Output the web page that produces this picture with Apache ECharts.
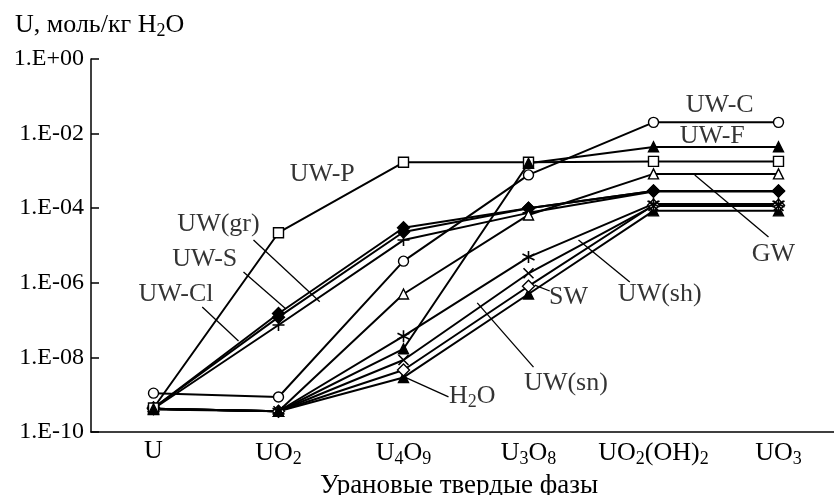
<!DOCTYPE html>
<html>
<head>
<meta charset="utf-8">
<script src="https://cdn.jsdelivr.net/npm/echarts@6/dist/echarts.min.js"></script>
<style>
  html, body { margin: 0; padding: 0; background: #fff; }
  #chart { width: 834px; height: 495px; }
</style>
</head>
<body>
<div id="chart"></div>
<script>
// ---- data ----
const categories = ['U', 'UO2', 'U4O9', 'U3O8', 'UO2(OH)2', 'UO3'];
const yTickLabels = ['1.E-10', '1.E-08', '1.E-06', '1.E-04', '1.E-02', '1.E+00'];

const uwC  = [1.1e-9, 8.7e-10, 3.8e-6, 7.8e-4, 2.0e-2, 2.0e-2];
const uwF  = [4.2e-10, 3.6e-10, 1.7e-8, 1.6e-3, 4.4e-3, 4.4e-3];
const uwP  = [4.4e-10, 2.2e-5, 1.7e-3, 1.7e-3, 1.8e-3, 1.8e-3];
const gw   = [4.2e-10, 3.6e-10, 5.0e-7, 6.6e-5, 8.3e-4, 8.3e-4];
const uwGr = [4.4e-10, 1.2e-7, 2.3e-5, 1.0e-4, 2.9e-4, 2.9e-4];
const uwS  = [4.4e-10, 1.5e-7, 3.0e-5, 1.0e-4, 2.9e-4, 2.9e-4];
const uwCl = [4.2e-10, 7.4e-8, 1.4e-5, 7.5e-5, 2.8e-4, 2.8e-4];
const uwSh = [4.2e-10, 3.6e-10, 3.7e-8, 4.9e-6, 1.3e-4, 1.3e-4];
const uwSn = [4.2e-10, 3.6e-10, 8.5e-9, 1.8e-6, 1.15e-4, 1.15e-4];
const sw   = [4.2e-10, 3.6e-10, 4.6e-9, 8.1e-7, 1.2e-4, 1.2e-4];
const h2o  = [4.0e-10, 3.6e-10, 2.9e-9, 5.0e-7, 8.5e-5, 8.5e-5];

// annotation labels: [text, category-position, log10 value]
const labelTexts = ['UW-C', 'UW-F', 'UW-P', 'UW(gr)', 'UW-S', 'UW-Cl', 'GW', 'UW(sh)', 'SW', 'UW(sn)', 'H2O'];
const labelX     = [4.53, 4.47, 1.35, 0.52, 0.41, 0.18, 4.96, 4.05, 3.32, 3.30, 2.55];
const labelLog   = [-1.23, -2.06, -3.08, -4.42, -5.36, -6.30, -5.23, -6.30, -6.38, -8.69, -9.03];
// pointer lines: [x1, log1, x2, log2]
const pointers = [
  [0.80, -4.85, 1.33, -6.51],
  [0.72, -5.71, 1.06, -6.70],
  [0.39, -6.65, 0.68, -7.56],
  [4.92, -4.77, 4.33, -3.11],
  [3.81, -5.98, 3.40, -4.85],
  [3.17, -6.22, 3.05, -6.06],
  [3.04, -8.26, 2.59, -6.54],
  [2.36, -9.06, 2.01, -8.53]
];

// ---- styling ----
const FONT = 'Liberation Serif';
const FS = 26;
const subRich = {
  s: { fontFamily: FONT, fontSize: 18, color: '#000', padding: [12, 0, 0, 0] }
};
function sub(t) { return t.replace(/(\d+)/g, '{s|$1}'); }

const PLUS  = 'path://M5,0L5,10M0,5L10,5';
const STAR  = 'path://M5,0L5,10M0.7,2.5L9.3,7.5M0.7,7.5L9.3,2.5';
const CROSS = 'path://M0,0L10,10M0,10L10,0';

function mkSeries(name, data, symbol, filled, size) {
  const isPath = symbol.indexOf('path://') === 0;
  return {
    name, type: 'line', data,
    symbol, symbolSize: size || 10, showAllSymbol: true,
    lineStyle: { color: '#000', width: 2 },
    itemStyle: {
      color: isPath ? 'none' : (filled ? '#000' : '#fff'),
      borderColor: '#000', borderWidth: isPath ? 1.6 : 1.4
    },
    emphasis: { disabled: true },
    z: 3
  };
}

const series = [
  mkSeries('H2O', h2o, 'triangle', true, 10),
  mkSeries('SW', sw, 'diamond', false, 12),
  mkSeries('UW(sn)', uwSn, CROSS, false, 10),
  mkSeries('UW(sh)', uwSh, STAR, false, 12),
  mkSeries('UW-Cl', uwCl, PLUS, false, 12),
  mkSeries('UW(gr)', uwGr, 'diamond', true, 12),
  mkSeries('UW-S', uwS, 'diamond', true, 12),
  mkSeries('GW', gw, 'triangle', false, 10),
  mkSeries('UW-P', uwP, 'rect', false, 10),
  mkSeries('UW-F', uwF, 'triangle', true, 10),
  mkSeries('UW-C', uwC, 'circle', false, 10)
];

pointers.forEach(function (p) {
  series.push({
    type: 'line', xAxisIndex: 1, yAxisIndex: 0,
    data: [[p[0], Math.pow(10, p[1])], [p[2], Math.pow(10, p[3])]],
    symbol: 'none', lineStyle: { color: '#000', width: 1.3 },
    silent: true, z: 2
  });
});

series.push({
  type: 'scatter', xAxisIndex: 1, yAxisIndex: 0,
  data: labelTexts.map(function (t, i) { return { value: [labelX[i], Math.pow(10, labelLog[i])], name: t }; }),
  symbol: 'circle', symbolSize: 1,
  itemStyle: { color: 'transparent' },
  label: {
    show: true, position: 'inside',
    formatter: function (p) { return sub(p.name); },
    fontFamily: FONT, fontSize: FS, color: '#000',
    align: 'center', verticalAlign: 'middle',
    rich: subRich
  },
  silent: true, z: 5
});

const chart = echarts.init(document.getElementById('chart'), null, { renderer: 'canvas' });
chart.setOption({
  animation: false,
  backgroundColor: '#fff',
  title: {
    text: 'U, моль/кг H{s|2}O',
    left: 10, top: 5,
    textStyle: { fontFamily: FONT, fontSize: FS, fontWeight: 'normal', color: '#000', rich: subRich }
  },
  grid: { left: 91, top: 59, width: 750, height: 373, containLabel: false, outerBoundsMode: 'none' },
  xAxis: [
    {
      type: 'category', data: categories, boundaryGap: true,
      axisLine: { onZero: false, lineStyle: { color: '#000', width: 1.5 } },
      axisTick: { inside: true, length: 10, interval: 0, lineStyle: { color: '#000', width: 1.5 } },
      axisLabel: {
        fontFamily: FONT, fontSize: FS, color: '#000', margin: 6, interval: 0,
        formatter: function (v) { return sub(v); },
        rich: subRich
      },
      name: 'Урановые твердые фазы', nameLocation: 'middle', nameGap: 37,
      nameTextStyle: { fontFamily: FONT, fontSize: 27, color: '#000', padding: [0, 14, 0, 0] },
      splitLine: { show: false }
    },
    { type: 'value', min: -0.5, max: 5.5, show: false }
  ],
  yAxis: {
    type: 'log', logBase: 10, min: 1e-10, max: 1, interval: 2,
    axisLine: { show: true, onZero: false, lineStyle: { color: '#000', width: 1.5 } },
    axisTick: { show: true, inside: true, length: 8, lineStyle: { color: '#000', width: 1.5 } },
    axisLabel: {
      fontFamily: FONT, fontSize: 24, color: '#000', margin: 7,
      formatter: function (v) {
        const i = Math.round((Math.log10(v) + 10) / 2);
        return yTickLabels[i];
      }
    },
    splitLine: { show: false },
    minorTick: { show: false }
  },
  series: series
});
</script>
</body>
</html>
